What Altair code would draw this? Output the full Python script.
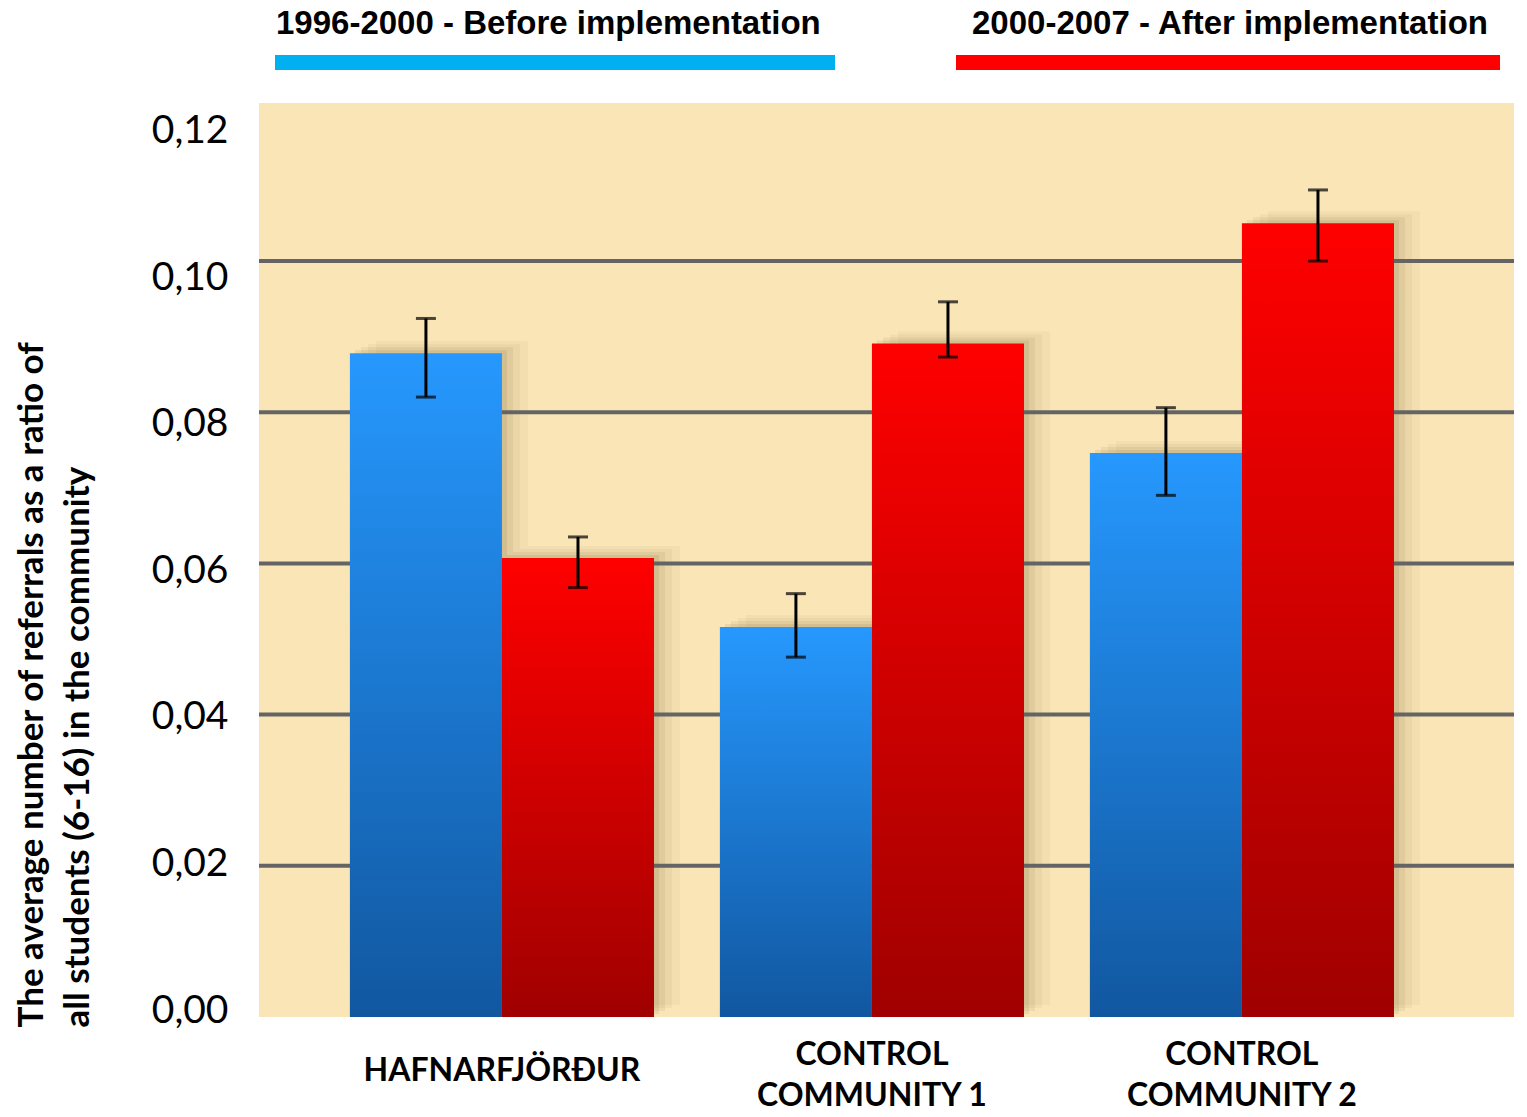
import altair as alt
import pandas as pd

groups = ["HAFNARFJÖRÐUR", "CONTROL\nCOMMUNITY 1", "CONTROL\nCOMMUNITY 2"]
series = ["1996-2000 - Before implementation", "2000-2007 - After implementation"]

before_vals = [0.0878, 0.0516, 0.0746]
before_lo = [0.0820, 0.0476, 0.0690]
before_hi = [0.0924, 0.0560, 0.0806]

after_vals = [0.0607, 0.0891, 0.1050]
after_lo = [0.0568, 0.0873, 0.1000]
after_hi = [0.0635, 0.0946, 0.1094]

y_ticks = [0.0, 0.02, 0.04, 0.06, 0.08, 0.10, 0.12]
grid_values = [0.02, 0.04, 0.06, 0.08, 0.10]

rows = []
for i, g in enumerate(groups):
    rows.append({"group": g, "series": series[0], "value": before_vals[i],
                 "lo": before_lo[i], "hi": before_hi[i]})
    rows.append({"group": g, "series": series[1], "value": after_vals[i],
                 "lo": after_lo[i], "hi": after_hi[i]})
df = pd.DataFrame(rows)
grid_df = pd.DataFrame({"g": grid_values})

blue_grad = alt.LinearGradient(
    gradient="linear", x1=0, y1=0, x2=0, y2=1,
    stops=[alt.GradientStop(color="#2698FE", offset=0),
           alt.GradientStop(color="#1157A0", offset=1)])
red_grad = alt.LinearGradient(
    gradient="linear", x1=0, y1=0, x2=0, y2=1,
    stops=[alt.GradientStop(color="#FF0000", offset=0),
           alt.GradientStop(color="#A00000", offset=1)])

x_scale = alt.Scale(domain=groups, paddingInner=0.178, paddingOuter=0.285,
                    align=0.431)
x_axis = alt.Axis(labelAngle=0, labelExpr="split(datum.label, '\\n')",
                  labelFont="Lato", labelFontSize=32, labelFontWeight="bold",
                  labelColor="black", labelLineHeight=41,
                  labelPadding={"condition": {"test": "indexof(datum.label, '\\n') < 0",
                                              "value": 53}, "value": 37},
                  labelBaseline="middle", labelLimit=0, labelOverlap=False,
                  domain=False, ticks=False, grid=False)
x_enc = alt.X("group:N", sort=groups, title=None, scale=x_scale, axis=x_axis)
xoff_enc = alt.XOffset("series:N",
                       scale=alt.Scale(domain=series, paddingInner=0, paddingOuter=0))

y_scale = alt.Scale(domain=[0, 0.1209], nice=False, zero=True)
y_axis = alt.Axis(
    values=y_ticks,
    labelExpr="replace(format(datum.value, '.2f'), '.', ',')",
    labelFont="Lato", labelFontSize=39, labelColor="black",
    labelPadding=31, labelOffset={"expr": "-7 + datum.value * 233"},
    domain=False, ticks=False, grid=False,
    title=["The average number of referrals as a ratio of",
           "all students (6-16) in the community"],
    titleFont="Lato", titleFontSize=35, titleFontWeight=700, titleColor="black",
    titleAngle=270, titleAlign="left", titleBaseline="top",
    titleX=-245, titleY=924, titleLineHeight=46, titleLimit=1000)

base = alt.Chart(df).encode(x=x_enc, xOffset=xoff_enc)

# soft drop shadow (decorative): copies of the bars, shifted right/up
shadows = []
half = 76
for s_idx, side in enumerate([-1, 1]):
    for dx, dy, op in [(26, -12, 0.03), (18, -9, 0.045), (11, -6, 0.06), (5, -3, 0.08)]:
        shadows.append(
            alt.Chart(df).transform_filter(alt.datum.series == series[s_idx])
            .mark_bar(color="#3a2a00", opacity=op, width={"band": 0.5},
                      xOffset=side * half + dx, yOffset=dy)
            .encode(x=alt.X("group:N", sort=groups, title=None, scale=x_scale, axis=x_axis),
                    y=alt.Y("value:Q", scale=y_scale, axis=y_axis)))

grid = alt.Chart(grid_df).mark_rule(color="#646464", strokeWidth=4).encode(
    y=alt.Y("g:Q", scale=y_scale))

bars_before = base.transform_filter(alt.datum.series == series[0]).mark_bar(
    color=blue_grad).encode(y=alt.Y("value:Q", scale=y_scale, axis=y_axis))
bars_after = base.transform_filter(alt.datum.series == series[1]).mark_bar(
    color=red_grad).encode(y=alt.Y("value:Q", scale=y_scale, axis=y_axis))

err_rule = base.mark_rule(color="black", strokeWidth=3).encode(
    y=alt.Y("lo:Q", scale=y_scale), y2="hi:Q")
cap_lo = base.mark_tick(color="black", thickness=3, size=20).encode(
    y=alt.Y("lo:Q", scale=y_scale))
cap_hi = base.mark_tick(color="black", thickness=3, size=20).encode(
    y=alt.Y("hi:Q", scale=y_scale))

leg1_df = pd.DataFrame({"label": [series[0]]})
leg2_df = pd.DataFrame({"label": [series[1]]})
leg_text1 = alt.Chart(leg1_df).mark_text(
    font="Liberation Sans", fontWeight="bold", fontSize=33, align="left",
    baseline="alphabetic", color="black").encode(
    text="label:N", x=alt.value(17), y=alt.value(-69))
leg_text2 = alt.Chart(leg2_df).mark_text(
    font="Liberation Sans", fontWeight="bold", fontSize=33, align="left",
    baseline="alphabetic", color="black").encode(
    text="label:N", x=alt.value(713), y=alt.value(-69))
leg_bar1 = alt.Chart(leg1_df).mark_rect(color="#00B0F0").encode(
    x=alt.value(16), x2=alt.value(576), y=alt.value(-48), y2=alt.value(-33))
leg_bar2 = alt.Chart(leg2_df).mark_rect(color="#FF0000").encode(
    x=alt.value(697), x2=alt.value(1241), y=alt.value(-48), y2=alt.value(-33))

chart = alt.layer(
    *shadows, grid, bars_before, bars_after, err_rule, cap_lo, cap_hi,
    leg_bar1, leg_bar2, leg_text1, leg_text2
).properties(
    width=1255, height=914,
    padding={"left": 251, "top": 95, "right": 0, "bottom": 100},
    autosize=alt.AutoSizeParams(type="none"),
).configure_view(fill="#F9E5B5", strokeWidth=0)

chart.save("out.html", embed_options={"renderer": "svg", "actions": False})
